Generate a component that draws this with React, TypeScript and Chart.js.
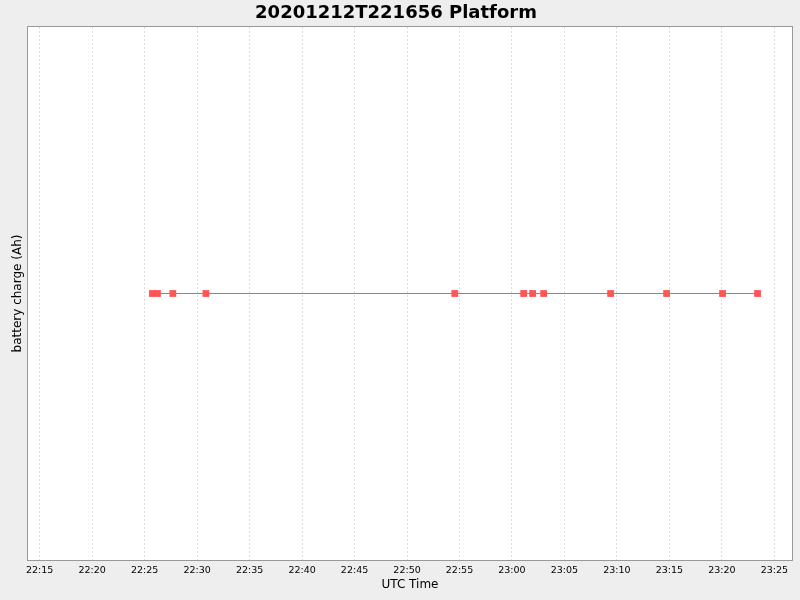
import React, { useEffect, useRef } from "react";
import { Chart, registerables } from "chart.js";

Chart.register(...registerables);

const TITLE = "20201212T221656 Platform";
const X_TITLE = "UTC Time";
const Y_TITLE = "battery charge (Ah)";

// Sample times (UTC)
const sampleTimes = [
  "22:25:44", "22:26:13", "22:27:41", "22:30:50", "22:54:33", "23:01:07",
  "23:01:58", "23:03:01", "23:09:24", "23:14:44", "23:20:04", "23:23:24",
];
// Battery charge values (constant in the reference)
const chargeValues = [0, 0, 0, 0, 0, 0, 0, 0, 0, 0, 0, 0];

const tickLabels = [
  "22:15", "22:20", "22:25", "22:30", "22:35", "22:40", "22:45", "22:50",
  "22:55", "23:00", "23:05", "23:10", "23:15", "23:20", "23:25",
];
const X_MIN = "22:13:53";
const X_MAX = "23:26:41";

const toSec = (s: string) => {
  const p = s.split(":").map(Number);
  return p[0] * 3600 + p[1] * 60 + (p[2] || 0);
};
const fmt = (v: number) => {
  const h = Math.floor(v / 3600);
  const m = Math.round((v - h * 3600) / 60);
  return `${String(h).padStart(2, "0")}:${String(m).padStart(2, "0")}`;
};

const FONT = "'DejaVu Sans', sans-serif";

const plotBg = {
  id: "plotBg",
  beforeDraw(chart: any) {
    const { ctx, chartArea: a } = chart;
    ctx.save();
    ctx.fillStyle = "#ffffff";
    ctx.fillRect(a.left, a.top, a.right - a.left, a.bottom - a.top);
    ctx.restore();
  },
  afterDatasetsDraw(chart: any) {
    const { ctx, chartArea: a } = chart;
    ctx.save();
    ctx.strokeStyle = "#999999";
    ctx.lineWidth = 1;
    ctx.strokeRect(Math.round(a.left) - 0.5, Math.round(a.top) - 0.5, Math.round(a.right - a.left) + 1, Math.round(a.bottom - a.top) + 1);
    ctx.restore();
  },
};

export default function App() {
  const ref = useRef<HTMLCanvasElement>(null);
  useEffect(() => {
    if (!ref.current) return;
    const data = sampleTimes.map((t, i) => ({ x: toSec(t), y: chargeValues[i] }));
    const chart = new Chart(ref.current, {
      type: "line",
      data: {
        datasets: [
          {
            data,
            borderColor: "#ff5555",
            backgroundColor: "#ff5555",
            borderWidth: 1,
            pointStyle: "rect",
            pointRadius: 4.8,
            pointBorderWidth: 0,
            pointBackgroundColor: "#ff5555",
            tension: 0,
            fill: false,
          },
        ],
      },
      options: {
        animation: false,
        responsive: false,
        devicePixelRatio: 1,
        layout: { padding: { top: 0, right: 8, left: 0, bottom: 0 } },
        plugins: {
          legend: { display: false },
          tooltip: { enabled: false },
          title: {
            display: true,
            text: TITLE,
            color: "#000000",
            font: { family: FONT, size: 18, weight: "bold", lineHeight: 1.2 },
            padding: { top: 3, bottom: 2.4 },
          },
        },
        scales: {
          x: {
            type: "linear",
            min: toSec(X_MIN),
            max: toSec(X_MAX),
            afterBuildTicks: (scale: any) => {
              scale.ticks = tickLabels.map((l) => ({ value: toSec(l) }));
            },
            afterFit: (scale: any) => {
              scale.height = 40;
            },
            ticks: {
              autoSkip: false,
              maxRotation: 0,
              padding: 5,
              color: "#000000",
              font: { family: FONT, size: 9.5 },
              callback: (v: any) => fmt(Number(v)),
            },
            grid: {
              drawTicks: false,
              color: "#dcdcdc",
              lineWidth: 1,
              tickLength: 0,
            },
            border: { display: false, dash: [2, 2] },
            title: {
              display: true,
              text: X_TITLE,
              color: "#000000",
              font: { family: FONT, size: 12, lineHeight: 1.2 },
              padding: { top: 0, bottom: 8 },
            },
          },
          y: {
            type: "linear",
            min: -1,
            max: 1,
            afterFit: (scale: any) => {
              scale.width = 28;
            },
            ticks: { display: false },
            grid: { display: false, drawTicks: false },
            border: { display: false },
            title: {
              display: true,
              text: Y_TITLE,
              color: "#000000",
              font: { family: FONT, size: 12, lineHeight: 1.2 },
              padding: { top: 11, bottom: 0 },
            },
          },
        },
      } as any,
      plugins: [plotBg],
    });
    return () => chart.destroy();
  }, []);
  return (
    <div style={{ position: "absolute", left: 0, top: 0, width: 800, height: 600, background: "#eeeeee" }}>
      <canvas ref={ref} width={800} height={600} style={{ display: "block", width: 800, height: 600 }} />
    </div>
  );
}
